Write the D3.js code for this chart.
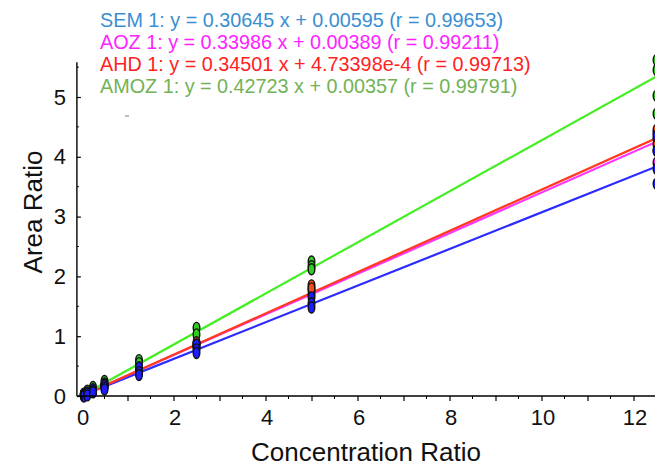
<!DOCTYPE html>
<html>
<head>
<meta charset="utf-8">
<script src="https://cdn.jsdelivr.net/npm/d3@7"></script>
<style>
  html, body { margin: 0; padding: 0; background: #fff; }
  svg { display: block; font-family: "Liberation Sans", Arial, sans-serif; }
</style>
</head>
<body>
<svg id="chart" width="655" height="468"></svg>
<script>
// ---------- data ----------
const concentrations = [0.05, 0.125, 0.25, 0.5, 1.25, 2.5, 5, 12.5];
const seriesNames = ["SEM 1", "AOZ 1", "AHD 1", "AMOZ 1"];
const slopes = [0.30645, 0.33986, 0.34501, 0.42723];
const intercepts = [0.00595, 0.00389, 4.73398e-4, 0.00357];
const legendLabels = [
  "SEM 1: y = 0.30645 x + 0.00595 (r = 0.99653)",
  "AOZ 1: y = 0.33986 x + 0.00389 (r = 0.99211)",
  "AHD 1: y = 0.34501 x + 4.73398e-4 (r = 0.99713)",
  "AMOZ 1: y = 0.42723 x + 0.00357 (r = 0.99791)"
];
// replicate area ratios per concentration
const semValues = [[0.03, 0.01, -0.01], [0.06, 0.04, 0.01], [0.11, 0.08, 0.06], [0.18, 0.14, 0.11], [0.48, 0.40, 0.35], [0.86, 0.78, 0.72], [1.65, 1.55, 1.48], [4.35, 4.10, 3.80, 3.55]];
const aozValues = [[0.03, 0.01], [0.05, 0.04], [0.09, 0.08], [0.18, 0.16], [0.45, 0.41], [0.88, 0.82], [1.78, 1.70], [4.40, 4.10, 3.90]];
const ahdValues = [[0.03, 0.01], [0.05, 0.04], [0.10, 0.08], [0.19, 0.17], [0.46, 0.42], [0.90, 0.85], [1.85, 1.80], [4.45, 4.30, 4.20]];
const amozValues = [[0.04, 0.02], [0.09, 0.05], [0.15, 0.11], [0.25, 0.21], [0.60, 0.55], [1.14, 1.03], [2.25, 2.17, 2.12], [5.62, 5.45, 5.02, 4.72]];
const xTickValues = [0, 2, 4, 6, 8, 10, 12];
const yTickValues = [0, 1, 2, 3, 4, 5];

// ---------- styles ----------
const lineColors = ["#2b2bff", "#ff33ff", "#ff3a1e", "#44ee22"];
const pointColors = ["#1c1cff", "#ff33ff", "#ff4a1a", "#33cc22"];
const textColors = ["#3a8ed2", "#ff22ff", "#ff2222", "#72b255"];

const svg = d3.select("#chart");
const x = d3.scaleLinear().domain([0, 12.5]).range([81.5, 656.5]);
const y = d3.scaleLinear().domain([0, 5]).range([396, 97]);
const xMin = -0.1, yMax = 5.58;

// regression lines
const seriesValues = [semValues, aozValues, ahdValues, amozValues];
const lineG = svg.append("g");
seriesNames.forEach((n, i) => {
  lineG.append("line")
    .attr("x1", x(0)).attr("y1", y(intercepts[i]))
    .attr("x2", x(12.5)).attr("y2", y(slopes[i] * 12.5 + intercepts[i]))
    .attr("stroke", lineColors[i]).attr("stroke-width", 2.2);
});

// points (draw AMOZ first, SEM last)
const order = [3, 1, 2, 0];
const ptG = svg.append("g");
order.forEach(i => {
  seriesValues[i].forEach((reps, ci) => {
    reps.forEach(v => {
      ptG.append("ellipse")
        .attr("cx", x(concentrations[ci])).attr("cy", y(v))
        .attr("rx", 3.3).attr("ry", 5.5)
        .attr("fill", pointColors[i]).attr("stroke", "#111").attr("stroke-width", 1.4);
    });
  });
});

// axes
const xAxis = d3.axisBottom(x).tickValues(d3.range(0, 13, 1)).tickSize(5)
  .tickFormat(d => (xTickValues.includes(d) ? d : ""));
const gx = svg.append("g").attr("transform", "translate(0,396)").call(xAxis);
gx.select(".domain").remove();
gx.append("line").attr("x1", x(xMin)).attr("x2", 660).attr("y1", 0).attr("y2", 0)
  .attr("stroke", "#000").attr("stroke-width", 1.4);
gx.selectAll(".tick line").attr("stroke", "#000").attr("stroke-width", 1.2);
gx.selectAll(".tick text").attr("font-size", 22).attr("fill", "#111").attr("dy", "0.95em").attr("dx", 1);
// minor x ticks
gx.selectAll(".minor").data(d3.range(0.5, 13, 1)).enter().append("line")
  .attr("x1", d => x(d)).attr("x2", d => x(d)).attr("y1", 0).attr("y2", 3)
  .attr("stroke", "#000").attr("stroke-width", 1);

const yAxis = d3.axisLeft(y).tickValues(yTickValues).tickSize(-4).tickPadding(11)
  .tickFormat(d3.format("d"));
const gy = svg.append("g").attr("transform", `translate(${x(xMin)},0)`).call(yAxis);
gy.select(".domain").remove();
gy.append("line").attr("x1", 0).attr("x2", 0).attr("y1", y(0)).attr("y2", y(yMax))
  .attr("stroke", "#000").attr("stroke-width", 1.4);
gy.selectAll(".tick line").attr("stroke", "#000").attr("stroke-width", 1.2);
gy.selectAll(".tick text").attr("font-size", 22).attr("fill", "#111");
gy.selectAll(".minor").data(d3.range(0.5, 5.6, 1)).enter().append("line")
  .attr("x1", 0).attr("x2", 2).attr("y1", d => y(d)).attr("y2", d => y(d))
  .attr("stroke", "#000").attr("stroke-width", 1);

// axis titles
svg.append("text").attr("x", 366).attr("y", 461).attr("text-anchor", "middle")
  .attr("font-size", 26).attr("fill", "#111").text("Concentration Ratio");
svg.append("text").attr("transform", "translate(42,212) rotate(-90)").attr("text-anchor", "middle")
  .attr("font-size", 26).attr("fill", "#111").text("Area Ratio");

// legend
legendLabels.forEach((t, i) => {
  svg.append("text").attr("x", 100).attr("y", 27 + i * 22)
    .attr("font-size", 19.8).attr("fill", textColors[i]).text(t);
});

// small grey artefact
svg.append("line").attr("x1", 125).attr("x2", 129).attr("y1", 116).attr("y2", 116)
  .attr("stroke", "#aaa").attr("stroke-width", 1.5);
</script>
</body>
</html>
